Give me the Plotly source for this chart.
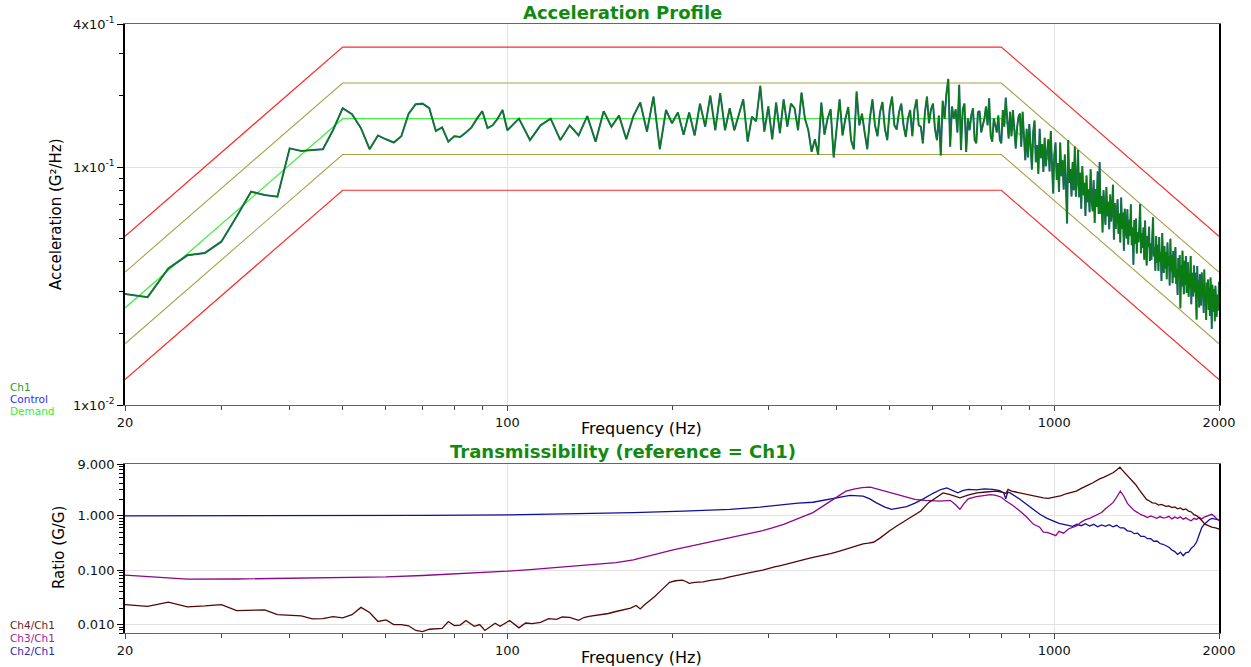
import numpy as np
import plotly.graph_objects as go

# ---------------- Acceleration profile (top) ----------------
prof_freq = [20, 50, 800, 2000]
demand = [0.0256, 0.16, 0.16, 0.0256]
alarm_hi = [0.0362, 0.226, 0.226, 0.0362]
alarm_lo = [0.0181, 0.113, 0.113, 0.0181]
abort_hi = [0.0512, 0.32, 0.32, 0.0512]
abort_lo = [0.0128, 0.08, 0.08, 0.0128]

# analyzer lines: 2 Hz below 100 Hz, 5 Hz above
ch1_freq_lo = np.arange(20, 100, 2)
ch1_psd_lo = [0.0293, 0.0284, 0.0375, 0.0426, 0.0436, 0.0486, 0.062, 0.0789, 0.0764, 0.0752,
              0.120, 0.117, 0.118, 0.119, 0.143, 0.177, 0.167, 0.146, 0.119, 0.136,
              0.131, 0.127, 0.135, 0.168, 0.184, 0.185, 0.177, 0.142, 0.147, 0.128,
              0.135, 0.134, 0.140, 0.147, 0.160, 0.172, 0.146, 0.150, 0.160, 0.174]
ch1_freq_hi = np.arange(100, 2001, 5)
ch1_psd_hi = [
    0.143, 0.160, 0.130, 0.150, 0.160, 0.130, 0.150, 0.136, 0.164, 0.128,
    0.172, 0.148, 0.165, 0.131, 0.164, 0.187, 0.141, 0.198, 0.119, 0.174,
    0.153, 0.170, 0.137, 0.170, 0.136, 0.185, 0.148, 0.200, 0.143, 0.205,
    0.143, 0.177, 0.143, 0.165, 0.193, 0.128, 0.163, 0.156, 0.220, 0.141,
    0.180, 0.131, 0.187, 0.139, 0.193, 0.148, 0.185, 0.177, 0.143, 0.206,
    0.160, 0.143, 0.116, 0.131, 0.113, 0.187, 0.137, 0.160, 0.175, 0.110,
    0.150, 0.193, 0.136, 0.160, 0.179, 0.130, 0.119, 0.208, 0.150, 0.168,
    0.140, 0.119, 0.160, 0.193, 0.150, 0.135, 0.170, 0.188, 0.145, 0.130,
    0.175, 0.198, 0.150, 0.144, 0.170, 0.185, 0.150, 0.134, 0.160, 0.174,
    0.135, 0.175, 0.193, 0.150, 0.148, 0.126, 0.170, 0.198, 0.153, 0.175,
    0.185, 0.145, 0.130, 0.165, 0.112, 0.190, 0.160, 0.205, 0.235, 0.122,
    0.180, 0.160, 0.175, 0.140, 0.222, 0.118, 0.175, 0.185, 0.116, 0.160,
    0.143, 0.165, 0.177, 0.130, 0.126, 0.170, 0.172, 0.140, 0.150, 0.160,
    0.180, 0.150, 0.195, 0.135, 0.128, 0.160, 0.150, 0.140, 0.165, 0.130,
    0.126,
    0.174, 0.148, 0.196, 0.160, 0.132, 0.171, 0.135, 0.174, 0.141, 0.120,
    0.147, 0.163, 0.168, 0.122, 0.171, 0.132, 0.107, 0.145, 0.110, 0.152,
    0.119, 0.0977, 0.141, 0.157, 0.105, 0.124, 0.0937, 0.145, 0.109, 0.125,
    0.0955, 0.133, 0.101, 0.118, 0.131, 0.0959, 0.142, 0.104, 0.0776, 0.113,
    0.127, 0.0884, 0.104, 0.0787, 0.127, 0.0917, 0.107, 0.0805, 0.113, 0.0836,
    0.058, 0.130, 0.0858, 0.0983, 0.0753, 0.105, 0.080, 0.122, 0.0752, 0.0888,
    0.118, 0.0748, 0.0948, 0.0669, 0.101, 0.0762, 0.0859, 0.0623, 0.0922, 0.0712,
    0.0806, 0.0647, 0.098, 0.0733, 0.0653, 0.0882, 0.0583, 0.081, 0.0681, 0.096,
    0.0635, 0.105, 0.0638, 0.0757, 0.0532, 0.0799, 0.0671, 0.0573, 0.0826, 0.0622,
    0.0715, 0.0548, 0.0768, 0.0591, 0.0662, 0.0844, 0.0496, 0.0707, 0.055, 0.0618,
    0.0733, 0.0525, 0.0639, 0.0482, 0.0746, 0.055, 0.0644, 0.0445, 0.0668, 0.0562,
    0.0502, 0.0665, 0.0473, 0.0601, 0.0515, 0.0699, 0.047, 0.0557, 0.0389, 0.060,
    0.0477, 0.0608, 0.0434, 0.0533, 0.0484, 0.0561, 0.070, 0.0435, 0.0529, 0.0458,
    0.0557, 0.0408, 0.0596, 0.0455, 0.0386, 0.0514, 0.0464, 0.0562, 0.0403, 0.0478,
    0.0407, 0.0503, 0.0615, 0.0421, 0.0462, 0.0367, 0.0513, 0.0397, 0.0472, 0.0366,
    0.0508, 0.040, 0.0439, 0.0332, 0.0529, 0.041, 0.0359, 0.0466, 0.0375, 0.044,
    0.0338, 0.0482, 0.0385, 0.0421, 0.0318, 0.050, 0.0364, 0.0427, 0.0325, 0.0444,
    0.0344, 0.0409, 0.0461, 0.0323, 0.0372, 0.029, 0.0415, 0.0345, 0.0427, 0.0255,
    0.0387, 0.0315, 0.0445, 0.0346, 0.0292, 0.0404, 0.032, 0.0423, 0.0296, 0.0351,
    0.0398, 0.0285, 0.0355, 0.0311, 0.0423, 0.0265, 0.036, 0.032, 0.0286, 0.0386,
    0.0298, 0.036, 0.0311, 0.0229, 0.0384, 0.0282, 0.0334, 0.0257, 0.0355, 0.0305,
    0.0262, 0.0361, 0.0288, 0.0322, 0.0244, 0.0371, 0.0274, 0.0301, 0.0228, 0.0327,
    0.0282, 0.0337, 0.0251, 0.0311, 0.0237, 0.0344, 0.0259, 0.0209, 0.032, 0.0282,
    0.0247, 0.0307, 0.0225, 0.0317, 0.0263, 0.0235, 0.0291, 0.0249, 0.027, 0.033]
assert len(ch1_psd_lo) == len(ch1_freq_lo)
assert len(ch1_psd_hi) == len(ch1_freq_hi), (len(ch1_psd_hi), len(ch1_freq_hi))

# ---------------- Transmissibility (bottom) ----------------
ch2_freq = [20, 30, 50, 70, 100, 130, 170, 210, 255, 290, 315, 340, 362, 390, 410, 423, 447, 460, 472,
            490, 504, 520, 537, 555, 574, 600, 620, 636, 650, 666, 680, 696, 720, 745, 772, 795, 808,
            815, 822, 830, 860, 888, 915, 941, 970, 990, 1006,
            1020, 1040, 1060, 1080, 1100, 1120, 1140, 1160, 1180, 1200, 1220, 1240, 1260, 1280, 1300,
            1320, 1340, 1360, 1380, 1400, 1420, 1440, 1460, 1480, 1500, 1520, 1540, 1560, 1580, 1600,
            1620, 1640, 1660, 1680, 1700, 1720, 1740, 1760, 1780, 1800, 1820, 1840, 1860, 1880, 1900,
            1920, 1940, 1960, 1980, 2000]
ch2_ratio = [1.00, 1.00, 1.01, 1.02, 1.04, 1.08, 1.15, 1.22, 1.32, 1.45, 1.60, 1.72, 1.78, 2.06, 2.25, 2.38,
             2.31, 2.05, 1.75, 1.45, 1.32, 1.40, 1.48, 1.70, 2.01, 2.60, 3.05, 3.27, 3.00, 2.65, 2.90, 3.06,
             3.00, 3.15, 3.06, 2.90, 2.65, 2.06, 2.75, 2.65, 2.10, 1.63, 1.30, 1.07, 0.90, 0.82, 0.76,
             0.73, 0.70, 0.67, 0.64, 0.70, 0.66, 0.72, 0.65, 0.70, 0.63, 0.68, 0.64, 0.69, 0.63, 0.67,
             0.60, 0.60, 0.53, 0.52, 0.47, 0.48, 0.42, 0.42, 0.38, 0.38, 0.34, 0.345, 0.31, 0.30, 0.28,
             0.265, 0.235, 0.22, 0.195, 0.215, 0.185, 0.21, 0.215, 0.255, 0.28, 0.33, 0.45, 0.61, 0.70, 0.78,
             0.85, 0.90, 0.88, 0.86, 0.84]

ch3_freq = [20, 23, 26, 32, 39, 50, 60, 70, 80, 91, 100, 110, 115, 125, 136, 147, 158, 170, 182, 192, 200,
            210, 222, 238, 255, 270, 285, 293, 305, 320, 338, 350, 362, 375, 390, 405, 416, 430, 445, 461,
            480, 497, 515, 535, 556, 580, 600, 618, 645, 660, 672, 684, 696, 720, 748, 765, 782, 800, 816,
            840, 865, 890, 915, 940, 955, 970, 990, 1006, 1020, 1040, 1061, 1080, 1100, 1118, 1140, 1160,
            1180, 1200, 1220, 1240, 1260, 1280, 1300, 1320, 1340, 1360, 1380, 1400, 1420, 1440, 1460, 1480,
            1500, 1520, 1540, 1560, 1580, 1600, 1620, 1640, 1660, 1680, 1700, 1720, 1740, 1760, 1780, 1800,
            1820, 1840, 1860, 1880, 1900, 1920, 1940, 1960, 1980, 2000]
ch3_ratio = [0.081, 0.075, 0.0686, 0.069, 0.0705, 0.072, 0.0755, 0.080, 0.085, 0.091, 0.096, 0.103, 0.107,
             0.115, 0.123, 0.130, 0.138, 0.155, 0.185, 0.215, 0.235, 0.26, 0.293, 0.35, 0.403, 0.45, 0.50,
             0.533, 0.60, 0.70, 0.87, 1.00, 1.15, 1.45, 1.87, 2.40, 2.85, 3.10, 3.30, 3.37, 3.00, 2.70,
             2.48, 2.20, 2.01, 1.92, 1.90, 1.87, 1.93, 1.60, 1.32, 1.70, 2.06, 2.25, 2.38, 2.45, 2.38, 2.20,
             1.87, 1.55, 1.23, 0.95, 0.706, 0.62, 0.50, 0.497, 0.46, 0.433, 0.52, 0.48, 0.573, 0.62, 0.66,
             0.76, 0.85, 0.90, 0.98, 1.05, 1.15, 1.35, 1.55, 1.75, 2.20, 2.85, 2.30, 1.70, 1.45, 1.25, 1.15,
             1.05, 1.00, 0.93, 1.00, 0.94, 0.90, 0.97, 0.92, 0.93, 0.98, 0.88, 0.95, 0.90, 0.96, 0.87, 0.92,
             0.85, 0.81, 0.90, 0.86, 0.94, 0.88, 0.95, 0.98, 1.02, 1.07, 0.98, 0.90, 0.81]

ch4_freq = [20, 22, 24, 26, 28, 30, 32, 34, 36, 38, 40, 42, 44, 46, 48, 50, 52, 54, 56, 58, 60, 62, 64, 66,
            68, 70, 72, 74, 76, 78, 80, 82, 84, 87, 89, 91, 95, 97, 101, 105, 108, 111, 115, 119, 123, 126,
            130, 135, 138, 141, 145, 149, 153, 158, 163, 168, 172, 175, 178, 182, 186, 190, 194, 198, 203,
            209, 212, 215, 220, 228, 235, 242, 248, 255, 262, 270, 277, 285, 293, 300, 308, 316, 325, 338,
            350, 362, 375, 390, 405, 418, 432, 447, 457, 467, 480, 490, 500, 515, 530, 552, 570, 589, 610,
            626, 645, 660, 672, 695, 722, 750, 782, 805, 816, 823, 835, 850, 865, 880, 900, 920, 940, 955,
            975, 990, 1006, 1030, 1050, 1070, 1097, 1120, 1140, 1160, 1174, 1190, 1210, 1230, 1242, 1260,
            1280, 1300, 1318, 1330, 1345, 1360, 1375, 1394, 1410, 1430, 1450, 1474, 1490, 1510, 1530, 1550,
            1570, 1600, 1620, 1640, 1660, 1680, 1700, 1720, 1740, 1760, 1780, 1800, 1822, 1840, 1860, 1885,
            1910, 1940, 1970, 2000]
ch4_ratio = [0.0232, 0.0216, 0.0259, 0.0212, 0.0220, 0.0232, 0.0180, 0.0185, 0.0187, 0.0152, 0.0148, 0.0145,
             0.0127, 0.0129, 0.0140, 0.0133, 0.0152, 0.0207, 0.0167, 0.0114, 0.0122, 0.0100, 0.0100, 0.0095,
             0.0078, 0.0074, 0.0082, 0.0084, 0.0085, 0.0114, 0.0096, 0.0098, 0.0119, 0.0093, 0.0100, 0.0078,
             0.0106, 0.0093, 0.0119, 0.0087, 0.0107, 0.0104, 0.0110, 0.0129, 0.0125, 0.0138, 0.0136, 0.0120,
             0.0135, 0.0142, 0.0148, 0.0156, 0.0160, 0.0174, 0.0185, 0.0201, 0.0225, 0.0194, 0.0230, 0.0273,
             0.033, 0.0404, 0.050, 0.0597, 0.064, 0.0658, 0.062, 0.0573, 0.060, 0.0613, 0.065, 0.068, 0.070,
             0.0755, 0.080, 0.085, 0.092, 0.095, 0.100, 0.108, 0.115, 0.122, 0.130, 0.142, 0.158, 0.172,
             0.185, 0.201, 0.225, 0.25, 0.28, 0.305, 0.315, 0.327, 0.39, 0.46, 0.533, 0.65, 0.78, 1.00, 1.23,
             1.75, 2.25, 2.65, 2.45, 2.25, 2.15, 2.40, 2.65, 2.75, 2.85, 2.70, 2.59, 3.06, 2.85, 2.75, 2.65,
             2.50, 2.40, 2.30, 2.20, 2.15, 2.10, 2.15, 2.21, 2.35, 2.55, 2.70, 2.85, 3.20, 3.55, 3.80, 4.03,
             4.40, 4.80, 5.10, 5.34, 5.60, 6.20, 7.00, 7.90, 7.00, 6.20, 5.40, 4.80, 4.33, 3.70, 3.00, 2.55,
             2.01, 1.90, 1.74, 1.72, 1.58, 1.62, 1.50, 1.52, 1.42, 1.46, 1.35, 1.40, 1.30, 1.34, 1.22, 1.18,
             1.05, 1.00, 0.92, 0.82, 0.706, 0.66, 0.62, 0.60, 0.573]

# ---------------- Axis tick data ----------------
x_major = [20, 100, 1000, 2000]
x_major_text = ["20", "100", "1000", "2000"]
x_minor = [30, 40, 50, 60, 70, 80, 90, 200, 300, 400, 500, 600, 700, 800, 900]
top_y_major = [0.01, 0.1, 0.4]
top_y_major_text = ["1x10<sup>-2</sup>", "1x10<sup>-1</sup>", "4x10<sup>-1</sup>"]
top_y_minor = [0.02, 0.03, 0.04, 0.05, 0.06, 0.07, 0.08, 0.09, 0.2, 0.3]
bot_y_major = [0.01, 0.1, 1.0, 9.0]
bot_y_major_text = ["0.010", "0.100", "1.000", "9.000"]
bot_y_minor = [0.007, 0.008, 0.009, 0.02, 0.03, 0.04, 0.05, 0.06, 0.07, 0.08, 0.09,
               0.2, 0.3, 0.4, 0.5, 0.6, 0.7, 0.8, 0.9, 2, 3, 4, 5, 6, 7, 8]

W, H = 1251, 667
TICKFONT = dict(family="DejaVu Sans", size=13, color="#111111")

fig = go.Figure()

def line(x, y, color, width, xa, ya, name, dash="solid", opacity=1.0):
    fig.add_trace(go.Scatter(x=list(x), y=list(y), mode="lines", name=name,
                             line=dict(color=color, width=width, dash=dash),
                             opacity=opacity, xaxis=xa, yaxis=ya, showlegend=False,
                             hoverinfo="skip"))

# top traces
line(prof_freq, abort_hi, "#ff2a2a", 1.2, "x", "y", "Abort+")
line(prof_freq, abort_lo, "#ff2a2a", 1.2, "x", "y", "Abort-")
line(prof_freq, alarm_hi, "#a8a24a", 1.1, "x", "y", "Alarm+")
line(prof_freq, alarm_lo, "#a8a24a", 1.1, "x", "y", "Alarm-")
line(prof_freq, demand, "#44ee44", 1.3, "x", "y", "Demand")
ch1_f = list(ch1_freq_lo) + list(ch1_freq_hi)
ch1_v = ch1_psd_lo + ch1_psd_hi
line(ch1_f, ch1_v, "#2a6680", 2.0, "x", "y", "Control")
line(ch1_f, ch1_v, "#0a7d12", 1.2, "x", "y", "Ch1")

# bottom traces
line(ch2_freq, ch2_ratio, "#101098", 1.3, "x2", "y2", "Ch2/Ch1")
line(ch3_freq, ch3_ratio, "#8b078b", 1.3, "x2", "y2", "Ch3/Ch1")
line(ch4_freq, ch4_ratio, "#520808", 1.3, "x2", "y2", "Ch4/Ch1")

xdom = [125 / W, 1219 / W]
top_dom = [(H - 405) / H, (H - 24) / H]
bot_dom = [(H - 633) / H, (H - 464) / H]

def xaxis_cfg(anchor):
    return dict(type="log", range=[np.log10(20), np.log10(2000)], domain=xdom, anchor=anchor,
                automargin=False,
                tickmode="array", tickvals=x_major, ticktext=x_major_text, ticks="outside",
                ticklen=5, tickcolor="#444", tickfont=TICKFONT, showgrid=True,
                gridcolor="#e2e2e2", gridwidth=1, showline=True, linecolor="#666666",
                linewidth=1.2, mirror=True, zeroline=False,
                minor=dict(tickmode="array", tickvals=x_minor, ticks="outside", ticklen=4,
                           tickcolor="#444", showgrid=False))

def yaxis_cfg(anchor, dom, rng, major, major_text, minor):
    return dict(type="log", range=rng, domain=dom, anchor=anchor, automargin=False,
                tickmode="array",
                tickvals=major, ticktext=major_text, ticks="outside", ticklen=6,
                tickcolor="#000", tickfont=TICKFONT, showgrid=True, gridcolor="#e2e2e2",
                gridwidth=1, showline=True, linecolor="#000000", linewidth=1.5, mirror=True,
                zeroline=False,
                minor=dict(tickmode="array", tickvals=minor, ticks="outside", ticklen=4,
                           tickcolor="#000", showgrid=False))

fig.update_layout(
    width=W, height=H, margin=dict(l=0, r=0, t=0, b=0, autoexpand=False),
    paper_bgcolor="white", plot_bgcolor="white",
    xaxis=xaxis_cfg("y"),
    yaxis=yaxis_cfg("x", top_dom, [np.log10(0.01), np.log10(0.4)], top_y_major, top_y_major_text, top_y_minor),
    xaxis2=xaxis_cfg("y2"),
    yaxis2=yaxis_cfg("x2", bot_dom, [np.log10(0.007), np.log10(9)], bot_y_major, bot_y_major_text, bot_y_minor),
    showlegend=False,
)

def ann(text, px, py, size, color="#000", bold=False, angle=0, xanchor="center", family="DejaVu Sans"):
    t = f"<b>{text}</b>" if bold else text
    fig.add_annotation(text=t, x=px / W, y=1 - py / H, xref="paper", yref="paper",
                       showarrow=False, xanchor=xanchor, yanchor="middle", textangle=angle,
                       font=dict(family=family, size=size, color=color))

ann("Acceleration Profile", 622, 12, 18, "#128a12", bold=True)
ann("Transmissibility (reference = Ch1)", 623, 452, 18, "#128a12", bold=True)
ann("Frequency (Hz)", 641, 428, 16)
ann("Frequency (Hz)", 641, 657, 16)
ann("Acceleration (G²/Hz)", 56, 214, 15, angle=-90)
ann("Ratio (G/G)", 59, 548, 15, angle=-90)

ann("Ch1", 8, 387, 10.5, "#2a9a2a", xanchor="left")
ann("Control", 8, 399, 10.5, "#2b2bff", xanchor="left")
ann("Demand", 8, 411, 10.5, "#33ee33", xanchor="left")
ann("Ch4/Ch1", 8, 625, 10.5, "#6a2222", xanchor="left")
ann("Ch3/Ch1", 8, 638, 10.5, "#a020a0", xanchor="left")
ann("Ch2/Ch1", 8, 651, 10.5, "#2a2ab0", xanchor="left")

fig.write_html("out.html")
